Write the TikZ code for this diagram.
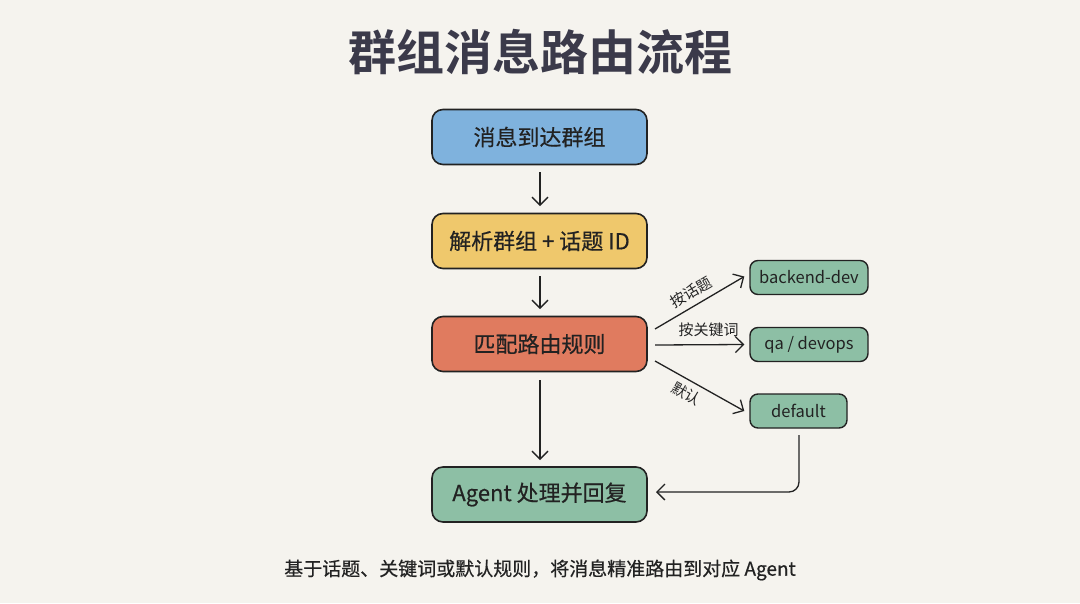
\documentclass[tikz,border=0pt]{standalone}
\usepackage{fontspec}
\setmainfont{Noto Sans CJK SC}
\newfontfamily\cjkb{Noto Sans CJK SC}[BoldFont={* Bold}]
\newfontfamily\med{Noto Sans CJK SC}[FakeBold=0.5]
\usetikzlibrary{arrows.meta,calc}
\definecolor{bg}{HTML}{F5F3EE}
\definecolor{ink}{HTML}{222222}
\definecolor{titlec}{HTML}{3B3A4A}
\definecolor{cblue}{HTML}{7FB2DD}
\definecolor{cyellow}{HTML}{EFC86C}
\definecolor{cred}{HTML}{E07B5F}
\definecolor{cgreen}{HTML}{8DBFA5}
\tikzset{
  mainbox/.style={draw=ink, line width=1.6pt, rounded corners=11pt, minimum width=215pt, minimum height=55pt, inner sep=0pt, font=\med\fontsize{22}{25}\selectfont, text=ink},
  smallbox/.style={draw=ink, line width=1.4pt, rounded corners=8pt, fill=cgreen, minimum height=34pt, inner sep=0pt, font=\fontsize{16.5}{19}\selectfont, text=ink},
  conn/.style={draw=ink, line width=1.3pt, -{Straight Barb[length=8pt,width=16pt,line width=1.3pt]}},
  lbl/.style={font=\fontsize{15}{16}\selectfont, text=ink, inner sep=0pt},
}
\begin{document}
\begin{tikzpicture}[x=1pt,y=-1pt]
\fill[bg] (0,0) rectangle (1080,603);
\useasboundingbox (0,0) rectangle (1080,603);
\node[font=\cjkb\bfseries\fontsize{48}{52}\selectfont, text=titlec] (title) at (540,52) {群组消息路由流程};
\node[mainbox, fill=cblue] (b1) at (539.5,137) {消息到达群组};
\node[mainbox, fill=cyellow] (b2) at (539.5,241) {解析群组 + 话题 ID};
\node[mainbox, fill=cred] (b3) at (539.5,344) {匹配路由规则};
\node[mainbox, fill=cgreen] (b4) at (539.5,494.5) {Agent 处理并回复};
\node[smallbox, minimum width=118pt] (s1) at (809,277.5) {backend-dev};
\node[smallbox, minimum width=118pt] (s2) at (809,344.5) {qa / devops};
\node[smallbox, minimum width=97pt] (s3) at (798.5,411) {default};
\coordinate (a1s) at (540,172);
\coordinate (a1e) at (540,206);
\draw[conn] (a1s) -- (a1e);
\coordinate (a2s) at (540,276);
\coordinate (a2e) at (540,309);
\draw[conn] (a2s) -- (a2e);
\coordinate (a3s) at (540,380);
\coordinate (a3e) at (540,460);
\draw[conn] (a3s) -- (a3e);
\coordinate (r1) at (655,329);
\coordinate (r2) at (655,345);
\coordinate (r3) at (655,361);
\draw[conn] (r1) -- ($(s1.west)+(-5,-1)$) node[lbl, pos=0.48, sloped, above=6pt] {按话题};
\draw[conn] (r2) -- ($(s2.west)+(-5,0)$) node[lbl, pos=0.6, above=7pt] {按关键词};
\draw[conn] (r3) -- ($(s3.west)+(-5,0)$) node[lbl, pos=0.42, sloped, below=6pt] {默认};
\coordinate (d1) at (799,435);
\coordinate (d2) at (656,492);
\draw[conn, rounded corners=10pt] (d1) -- (799,492) -- (d2);
\node[font=\med\fontsize{19}{22}\selectfont, text=ink] (foot) at (540,570) {基于话题、关键词或默认规则，将消息精准路由到对应 Agent};
\end{tikzpicture}
\end{document}
